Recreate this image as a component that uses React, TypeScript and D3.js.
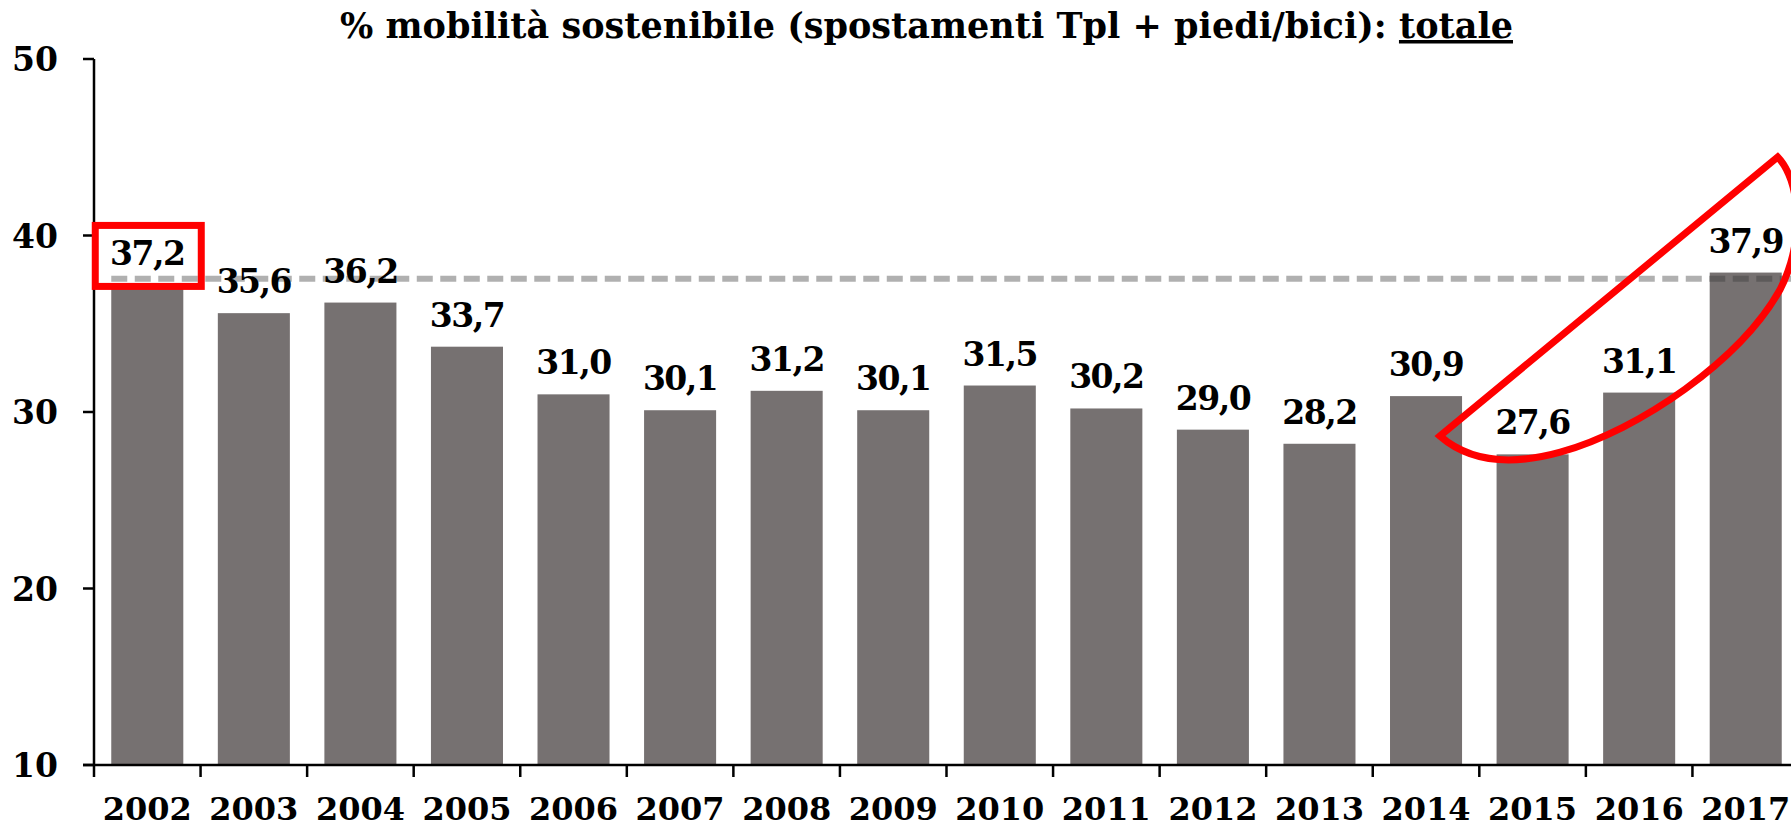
import React from "react";
import * as d3 from "d3";

const years = ["2002","2003","2004","2005","2006","2007","2008","2009","2010","2011","2012","2013","2014","2015","2016","2017"];
const values = [37.2,35.6,36.2,33.7,31.0,30.1,31.2,30.1,31.5,30.2,29.0,28.2,30.9,27.6,31.1,37.9];
const yTicks = [10, 20, 30, 40, 50];
const referenceValue = 37.55;
const titleMain = "% mobilità sostenibile (spostamenti Tpl + piedi/bici): ";
const titleUnderlined = "totale";
// annotation outline in data space: [category index (fractional), value]
const leafStart: [number, number] = [12.13, 28.64];
const leafTop: [number, number] = [15.30, 44.45];
const leafCurves: [number, number][][] = [
  [[15.51, 43.14], [15.56, 39.75], [15.32, 36.91]],
  [[14.95, 32.95], [14.01, 28.98], [13.26, 27.73]],
  [[12.79, 26.94], [12.41, 27.17], [12.13, 28.64]],
];

const W = 1791, H = 829;
const FONT = "'DejaVu Serif', serif";

export default function App() {
  const left = 94, right = 1799, top = 59, bottom = 765;
  const x = d3.scaleBand<string>().domain(years).range([left, right]).paddingInner(0.324).paddingOuter(0.162);
  const y = d3.scaleLinear().domain([10, 50]).range([bottom, top]);
  const step = x.step();
  const xi = (i: number) => left + step * (i + 0.5);
  const fmt = (v: number) => v.toFixed(1).replace(".", ",");

  const tickXs = d3.range(years.length + 1).map((i) => left + i * step);

  const p = d3.path();
  p.moveTo(xi(leafStart[0]), y(leafStart[1]));
  p.lineTo(xi(leafTop[0]), y(leafTop[1]));
  leafCurves.forEach((c) => {
    p.bezierCurveTo(xi(c[0][0]), y(c[0][1]), xi(c[1][0]), y(c[1][1]), xi(c[2][0]), y(c[2][1]));
  });
  p.closePath();

  const firstBaseline = y(values[0]) - 20;
  const firstX = x(years[0])!;

  return (
    <svg width={W} height={H} style={{ position: "absolute", left: 0, top: 0, background: "#fff" }} fontFamily={FONT}>
      <text x={340} y={38} fontSize={35} fontWeight="bold" textLength={1173} lengthAdjust="spacingAndGlyphs" fill="#000">
        {titleMain}
        <tspan textDecoration="underline">{titleUnderlined}</tspan>
      </text>

      {years.map((yr, i) => (
        <rect key={yr} x={x(yr)} y={y(values[i])} width={x.bandwidth()} height={bottom - y(values[i])} fill="#767171" />
      ))}

      <line x1={firstX} x2={W} y1={y(referenceValue)} y2={y(referenceValue)} stroke="rgba(58,58,58,0.4)" strokeWidth={6} strokeDasharray="16 7.5" />

      {/* axes */}
      <line x1={left} x2={left} y1={top} y2={bottom} stroke="#000" strokeWidth={2.5} />
      <line x1={left - 11} x2={W} y1={bottom} y2={bottom} stroke="#000" strokeWidth={2.5} />
      {yTicks.map((t) => (
        <g key={t}>
          <line x1={left - 11} x2={left} y1={y(t)} y2={y(t)} stroke="#000" strokeWidth={2.5} />
          <text x={58} y={y(t) + 12} textAnchor="end" fontSize={33} fontWeight="bold">{t}</text>
        </g>
      ))}
      {tickXs.map((tx, i) => (
        <line key={i} x1={tx} x2={tx} y1={bottom} y2={bottom + 12} stroke="#000" strokeWidth={2.5} />
      ))}
      {years.map((yr) => (
        <text key={yr} x={x(yr)! + x.bandwidth() / 2} y={820} textAnchor="middle" fontSize={32} fontWeight="bold">{yr}</text>
      ))}

      {years.map((yr, i) => (
        <text key={yr} x={x(yr)! + x.bandwidth() / 2} y={y(values[i]) - 20} textAnchor="middle" fontSize={33} fontWeight="bold" letterSpacing={-1.5}>{fmt(values[i])}</text>
      ))}

      <rect x={firstX - 16} y={firstBaseline - 39.5} width={106} height={61} fill="none" stroke="#ff0000" strokeWidth={7} />
      <path d={p.toString()} fill="none" stroke="#ff0000" strokeWidth={7} strokeLinejoin="miter" />
    </svg>
  );
}
